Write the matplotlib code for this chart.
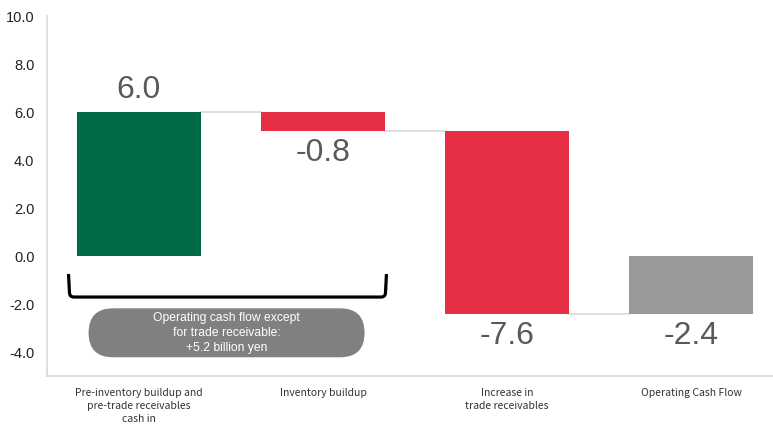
import numpy as np
import matplotlib.pyplot as plt
from matplotlib.patches import FancyBboxPatch
from matplotlib.path import Path
from matplotlib.patches import PathPatch

categories = ['Pre-inventory buildup and\npre-trade receivables\ncash in',
              'Inventory buildup',
              'Increase in\ntrade receivables',
              'Operating Cash Flow']
changes = [6.0, -0.8, -7.6]
total = sum(changes)
colors = ['#006a45', '#e62e45', '#e62e45', '#999999']
note = 'Operating cash flow except\nfor trade receivable:\n+5.2 billion yen'
yticks = np.arange(-4, 10.1, 2)

# waterfall positions
ends = np.cumsum(changes)
starts = np.concatenate([[0], ends[:-1]])
bottoms = list(np.minimum(starts, ends)) + [min(0, total)]
heights = list(np.abs(changes)) + [abs(total)]
labels = changes + [total]
x = np.arange(len(categories))
w = 0.67

fig = plt.figure(figsize=(7.73, 4.29), dpi=100)
ax = fig.add_axes([47 / 773, 53 / 429, 726 / 773, 360 / 429])

ax.bar(x, heights, bottom=bottoms, width=w, color=colors, zorder=2)

# connectors
levels = list(ends)
for i in range(len(levels)):
    ax.plot([x[i] + w / 2, x[i + 1] - w / 2], [levels[i], levels[i]],
            color='#d9d9d9', lw=1.2, zorder=1)

for i, v in enumerate(labels):
    if v >= 0:
        ax.text(x[i], bottoms[i] + heights[i] + 0.3, f'{v:.1f}', ha='center',
                va='bottom', fontsize=23, color='#595959', family='Liberation Sans')
    else:
        ax.text(x[i], bottoms[i] - 0.3, f'{v:.1f}', ha='center', va='top',
                fontsize=23, color='#595959', family='Liberation Sans')

# bracket
bx0, bx1, by0, by1 = -0.383, 1.345, -0.75, -1.71
r = 0.03
verts = [(bx0, by0), (bx0 + 0.005, by1 + 0.2), (bx0 + 0.005, by1), (bx0 + r, by1),
         (bx1 - r, by1), (bx1 - 0.005, by1), (bx1 - 0.005, by1 + 0.2), (bx1, by0)]
codes = [Path.MOVETO, Path.LINETO, Path.CURVE3, Path.CURVE3,
         Path.LINETO, Path.CURVE3, Path.CURVE3, Path.LINETO]
ax.add_patch(PathPatch(Path(verts, codes), fill=False, lw=2.3, color='black',
                       capstyle='butt', zorder=3))

# rounded note box
cx, cy, bw, bh = 0.476, -3.2, 1.5, 2.04
aspect = 184 / 24
ax.add_patch(FancyBboxPatch((cx - bw / 2, cy - bh / 2), bw, bh,
                            boxstyle=f'round,pad=0,rounding_size={bh / 2 / aspect}',
                            mutation_aspect=aspect, fc='#808080', ec='none', zorder=3))
ax.text(cx, cy, note, ha='center', va='center', color='white', fontsize=8.7,
        family='Liberation Sans', linespacing=1.3, zorder=4)

ax.set_xlim(-0.5, 3.446)
ax.set_ylim(-5, 10)
ax.set_yticks(yticks)
ax.set_yticklabels([f'{t:.1f}' for t in yticks],
                   fontsize=10.5, family='Liberation Sans', color='#222222')
ax.set_xticks(x)
ax.set_xticklabels(categories, fontsize=7.5, color='#333333',
                   family=['Noto Sans CJK JP', 'DejaVu Sans'], linespacing=1.35)
ax.tick_params(axis='y', length=0, pad=9)
ax.tick_params(axis='x', length=0, pad=9)
for s in ['top', 'right']:
    ax.spines[s].set_visible(False)
for s in ['left', 'bottom']:
    ax.spines[s].set_color('#d9d9d9')
    ax.spines[s].set_linewidth(1.2)

fig.savefig('out.png', dpi=100)
